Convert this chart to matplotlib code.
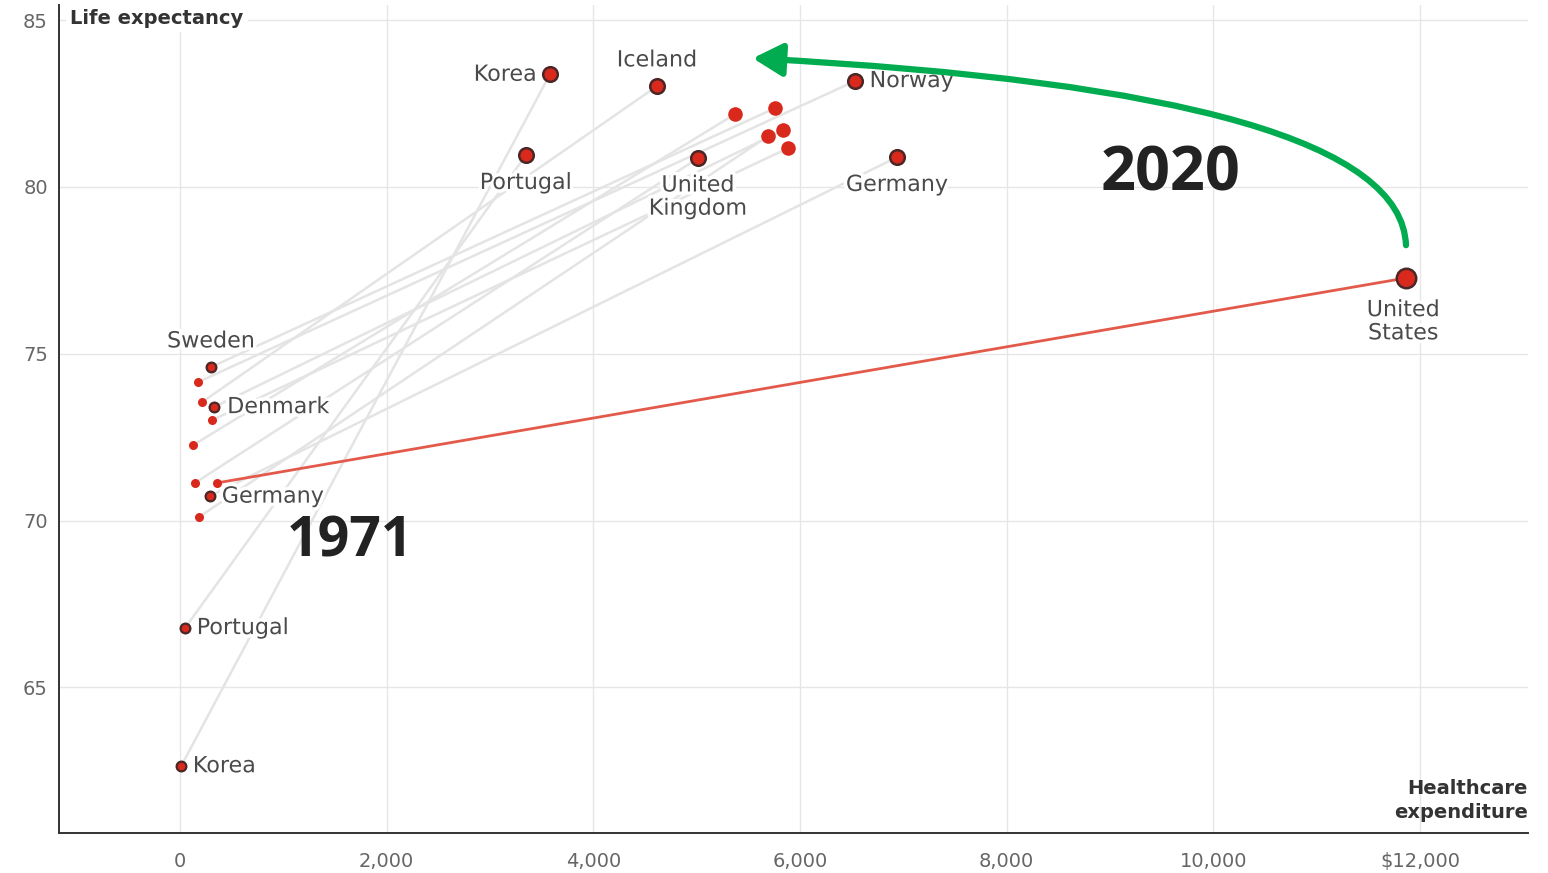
import numpy as np
import matplotlib
matplotlib.use('Agg')
import matplotlib.pyplot as plt
import matplotlib.patheffects as pe
from matplotlib.patches import FancyArrowPatch

plt.rcParams['font.family'] = ['DejaVu Sans']

# 数据：1971 与 2020 的人均医疗支出（美元）和预期寿命
countries = ['Korea', 'Portugal', 'Germany', 'Sweden', 'Denmark', 'United States',
             'United Kingdom', 'Norway', 'Iceland', 'Netherlands', 'France', 'Canada']
spend_1971 = [10, 48, 290, 300, 329, 358, 145, 174, 213, 310, 126, 184]
life_1971 = [62.64, 66.78, 70.74, 74.60, 73.40, 71.13, 71.13, 74.15, 73.55, 73.01, 72.26, 70.11]
spend_2020 = [3581, 3348, 6939, 5758, 5836, 11865, 5013, 6532, 4616, 5884, 5371, 5690]
life_2020 = [83.38, 80.95, 80.89, 82.36, 81.70, 77.27, 80.86, 83.17, 83.02, 81.16, 82.18, 81.52]

label_1971 = ['Korea', 'Portugal', 'Germany', 'Sweden', 'Denmark']
label_2020 = ['Korea', 'Portugal', 'Germany', 'United States', 'United Kingdom', 'Norway', 'Iceland']

x_ticks = [0, 2000, 4000, 6000, 8000, 10000, 12000]
x_tick_labels = ['0', '2,000', '4,000', '6,000', '8,000', '10,000', '$12,000']
y_ticks = [65, 70, 75, 80, 85]

red = '#d9291c'
edge = '#4a2626'
grey_line = '#e4e4e4'
txt = '#4a4a4a'

fig = plt.figure(figsize=(15.48, 8.73), dpi=100)
ax = fig.add_axes([59/1548, 40/873, 1469/1548, 828/873])
ax.set_xlim(-1171, 13045)
ax.set_ylim(60.64, 85.45)

ax.set_xticks(x_ticks)
ax.set_xticklabels(x_tick_labels)
ax.set_yticks(y_ticks)
ax.tick_params(length=0, labelsize=14, labelcolor='#666666')
ax.tick_params(axis='x', pad=14)
ax.tick_params(axis='y', pad=8)
ax.grid(True, color='#e6e6e6', lw=1)
ax.set_axisbelow(True)
for s in ['top', 'right']:
    ax.spines[s].set_visible(False)
for s in ['left', 'bottom']:
    ax.spines[s].set_color('#333333')
    ax.spines[s].set_linewidth(1.4)

# 连线
for i, c in enumerate(countries):
    if c == 'United States':
        continue
    ax.plot([spend_1971[i], spend_2020[i]], [life_1971[i], life_2020[i]],
            color=grey_line, lw=1.8, zorder=2)
us = countries.index('United States')
ax.plot([spend_1971[us], spend_2020[us]], [life_1971[us], life_2020[us]],
        color='#e35a4b', lw=2, zorder=3)

# 点
for i, c in enumerate(countries):
    if c in label_1971:
        ax.plot(spend_1971[i], life_1971[i], 'o', ms=7, color=red, mec=edge, mew=1.6, zorder=5)
    else:
        ax.plot(spend_1971[i], life_1971[i], 'o', ms=6.5, color=red, mew=0, zorder=5)
    if c == 'United States':
        ax.plot(spend_2020[i], life_2020[i], 'o', ms=14, color=red, mec=edge, mew=1.8, zorder=5)
    elif c in label_2020:
        ax.plot(spend_2020[i], life_2020[i], 'o', ms=10.5, color=red, mec=edge, mew=1.8, zorder=5)
    else:
        ax.plot(spend_2020[i], life_2020[i], 'o', ms=10.5, color=red, mew=0, zorder=5)

halo = [pe.withStroke(linewidth=5, foreground='white')]

def label(x, y, s, dx, dy, ha, va='center'):
    ax.annotate(s, (x, y), xytext=(dx, dy), textcoords='offset points',
                ha=ha, va=va, fontsize=16, color=txt, path_effects=halo,
                zorder=4, linespacing=1.2)

# 1971 标签
off_1971 = {'Sweden': (0, 18.5, 'center'), 'Denmark': (9.5, 0, 'left'),
            'Germany': (8.5, -0.5, 'left'), 'Portugal': (8.5, 0, 'left'),
            'Korea': (8.5, 0, 'left')}
for c, (dx, dy, ha) in off_1971.items():
    i = countries.index(c)
    label(spend_1971[i], life_1971[i], c, dx, dy, ha)

# 2020 标签
off_2020 = {'Korea': (-9.5, -0.5, 'right', 'Korea'),
            'Iceland': (0, 18.5, 'center', 'Iceland'),
            'Norway': (10.5, 0, 'left', 'Norway'),
            'Portugal': (0, -20, 'center', 'Portugal'),
            'United Kingdom': (0, -28, 'center', 'United\nKingdom'),
            'Germany': (0, -20, 'center', 'Germany'),
            'United States': (-2, -31.5, 'center', 'United\nStates')}
for c, (dx, dy, ha, s) in off_2020.items():
    i = countries.index(c)
    label(spend_2020[i], life_2020[i], s, dx, dy, ha)

# 年份
ax.text(1645, 69.35, '1971', fontsize=40, fontweight='bold', color='#222222',
        family='Open Sans', ha='center', va='center', zorder=6)
ax.text(9581, 80.35, '2020', fontsize=44, fontweight='bold', color='#222222',
        family='Open Sans', ha='center', va='center', zorder=6)

# 轴标题
ax.text(-1060, 85.05, 'Life expectancy', fontsize=14, fontweight='bold', color='#333333',
        ha='left', va='center', zorder=6,
        bbox=dict(facecolor='white', edgecolor='none', pad=3))
ax.text(13045, 61.62, 'Healthcare\nexpenditure', fontsize=14, fontweight='bold',
        color='#333333', ha='right', va='center', linespacing=1.3, zorder=6)

# 绿色箭头
arrow = FancyArrowPatch((11865, 78.17), (5516, 83.86),
                        connectionstyle='angle3,angleA=90,angleB=-3',
                        arrowstyle='-|>,head_length=0.9,head_width=0.5',
                        mutation_scale=20, color='#00ac4f', lw=4.5, zorder=6)
ax.add_patch(arrow)

fig.savefig('out.png', dpi=100)
